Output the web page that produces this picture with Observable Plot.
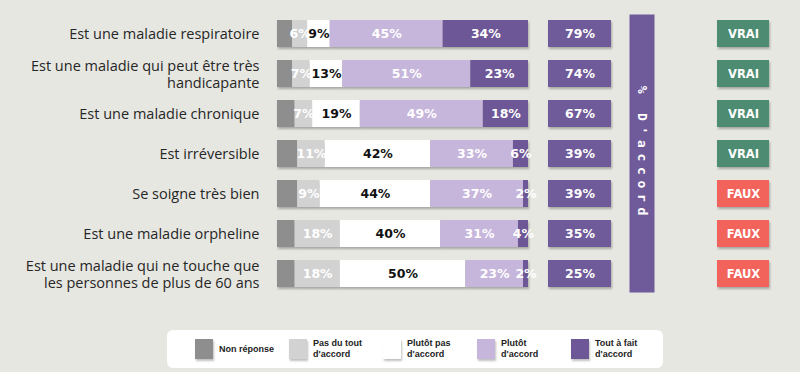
<!DOCTYPE html>
<html>
<head>
<meta charset="utf-8">
<script src="https://cdn.jsdelivr.net/npm/d3@7"></script>
<script src="https://cdn.jsdelivr.net/npm/@observablehq/plot@0.6"></script>
<style>
  html, body { margin: 0; padding: 0; background: #e7e7e2; }
  #wrap { position: relative; width: 800px; height: 372px; background: #e7e7e2; overflow: hidden; }
  #row { display: flex; height: 300px; }
  #row svg { flex: none; }
  svg g[aria-label="bar"], svg g[aria-label="cell"], svg g[aria-label="frame"] {
    filter: drop-shadow(1px 2px 1px rgba(0,0,0,0.28));
  }
  .vbar text { letter-spacing: 5.7px; }
  #legend {
    position: absolute; left: 167px; top: 330px; width: 496px; height: 38px;
    background: #fff; border-radius: 6px; display: flex; align-items: center;
    padding-left: 28px; box-sizing: border-box;
    font-family: "Liberation Sans", Arial, sans-serif; font-weight: bold; font-size: 9px; color: #222;
  }
  .item { width: 94px; display: flex; align-items: center; flex: none; }
  .sw { width: 18px; height: 20px; margin-right: 6px; flex: none; box-shadow: 1px 2px 2px rgba(0,0,0,0.25); }
  .lab { line-height: 11px; white-space: pre; }
</style>
</head>
<body>
<div id="wrap">
  <div id="row"></div>
  <div id="legend"></div>
</div>
<script>
// ---- data ----
const questions = [
  "Est une maladie respiratoire",
  "Est une maladie qui peut être très\nhandicapante",
  "Est une maladie chronique",
  "Est irréversible",
  "Se soigne très bien",
  "Est une maladie orpheline",
  "Est une maladie qui ne touche que\nles personnes de plus de 60 ans"
];
const categories = ["Non réponse", "Pas du tout d'accord", "Plutôt pas d'accord", "Plutôt d'accord", "Tout à fait d'accord"];
const legendLabels = ["Non réponse", "Pas du tout\nd'accord", "Plutôt pas\nd'accord", "Plutôt\nd'accord", "Tout à fait\nd'accord"];
const nonReponse = [6, 6, 7, 8, 8, 7, 7];
const pasDuTout  = [6, 7, 7, 11, 9, 18, 18];
const plutotPas  = [9, 13, 19, 42, 44, 40, 50];
const plutot     = [45, 51, 49, 33, 37, 31, 23];
const toutAFait  = [34, 23, 18, 6, 2, 4, 2];
const accord     = [79, 74, 67, 39, 39, 35, 25];
const verdicts   = ["VRAI", "VRAI", "VRAI", "VRAI", "FAUX", "FAUX", "FAUX"];
const verdictLabels = ["VRAI", "FAUX"];
const accordTitle = "% D'accord";

// ---- styles ----
const catColors = ["#8e8e8e", "#d2d2d2", "#ffffff", "#c7b6dc", "#6e5797"];
const purple = "#6f5a9a";
const verdictColors = ["#4d8b73", "#f2645b"];
const labelFont = "'Open Sans', 'Noto Sans', sans-serif";
const boldFont = "'DejaVu Sans', Verdana, sans-serif";

const series = [nonReponse, pasDuTout, plutotPas, plutot, toutAFait];
const flat = [];
questions.forEach((q, i) => series.forEach((s, j) => flat.push({q, cat: categories[j], value: s[i]})));
const rows = questions.map((q, i) => ({q, accord: accord[i], verdict: verdicts[i]}));

const H = 300;
const yScale = {domain: questions, paddingInner: 0.315, paddingOuter: 0.1575};
const common = {height: H, marginTop: 10.5, marginBottom: 3.1, x: {axis: null}, style: {background: "transparent", overflow: "visible"}};

// main stacked bars
const main = Plot.plot({
  ...common,
  width: 530, marginLeft: 277, marginRight: 2,
  x: {domain: [0, 100], axis: null},
  y: {...yScale, axis: null},
  color: {domain: categories, range: catColors},
  marks: [
    Plot.barX(flat, {x: "value", y: "q", fill: "cat", order: null}),
    Plot.text(flat, Plot.stackX({x: "value", y: "q", z: "cat", order: null,
      text: d => (d.cat === categories[0] || d.cat === categories[2]) ? null : d.value + "%",
      fill: "white", fontFamily: boldFont, fontWeight: "bold", fontSize: 12.5})),
    Plot.text(flat, Plot.stackX({x: "value", y: "q", z: "cat", order: null,
      text: d => d.cat === categories[2] ? d.value + "%" : null,
      fill: "#111", fontFamily: boldFont, fontWeight: "bold", fontSize: 12.5})),
    Plot.text(rows, {y: "q", text: "q", frameAnchor: "left", textAnchor: "end", dx: -18,
      fontFamily: labelFont, fontSize: 14.5, lineHeight: 1.18, fill: "#262626"})
  ]
});

// % d'accord boxes
const agree = Plot.plot({
  ...common,
  width: 98, marginLeft: 18, marginRight: 17,
  y: {...yScale, axis: null},
  marks: [
    Plot.cell(rows, {y: "q", fill: purple}),
    Plot.text(rows, {y: "q", text: d => d.accord + "%", frameAnchor: "middle", fill: "white",
      fontFamily: boldFont, fontWeight: "bold", fontSize: 12.5})
  ]
});

// vertical title bar
const vbar = Plot.plot({
  height: H, width: 28, marginLeft: 1, marginRight: 2, marginTop: 14, marginBottom: 8,
  style: {background: "transparent", overflow: "visible"},
  marks: [
    Plot.frame({fill: purple, stroke: "none"}),
    Plot.text([accordTitle], {frameAnchor: "middle", rotate: 90, fill: "white",
      fontFamily: "'DejaVu Sans Mono', monospace", fontWeight: "bold", fontSize: 13})
  ]
});
vbar.classList.add("vbar");

// verdict boxes
const verdict = Plot.plot({
  ...common,
  width: 144, marginLeft: 61, marginRight: 31,
  y: {...yScale, axis: null},
  color: {domain: verdictLabels, range: verdictColors},
  marks: [
    Plot.cell(rows, {y: "q", fill: "verdict"}),
    Plot.text(rows, {y: "q", text: "verdict", frameAnchor: "middle", fill: "white",
      fontFamily: boldFont, fontWeight: "bold", fontSize: 11.5})
  ]
});

const row = document.getElementById("row");
[main, agree, vbar, verdict].forEach(s => row.appendChild(s));

// legend
const legend = document.getElementById("legend");
categories.forEach((c, i) => {
  const item = document.createElement("div");
  item.className = "item";
  const sw = document.createElement("div");
  sw.className = "sw";
  sw.style.background = catColors[i];
  const lab = document.createElement("div");
  lab.className = "lab";
  lab.textContent = legendLabels[i];
  item.appendChild(sw); item.appendChild(lab);
  legend.appendChild(item);
});
</script>
</body>
</html>
